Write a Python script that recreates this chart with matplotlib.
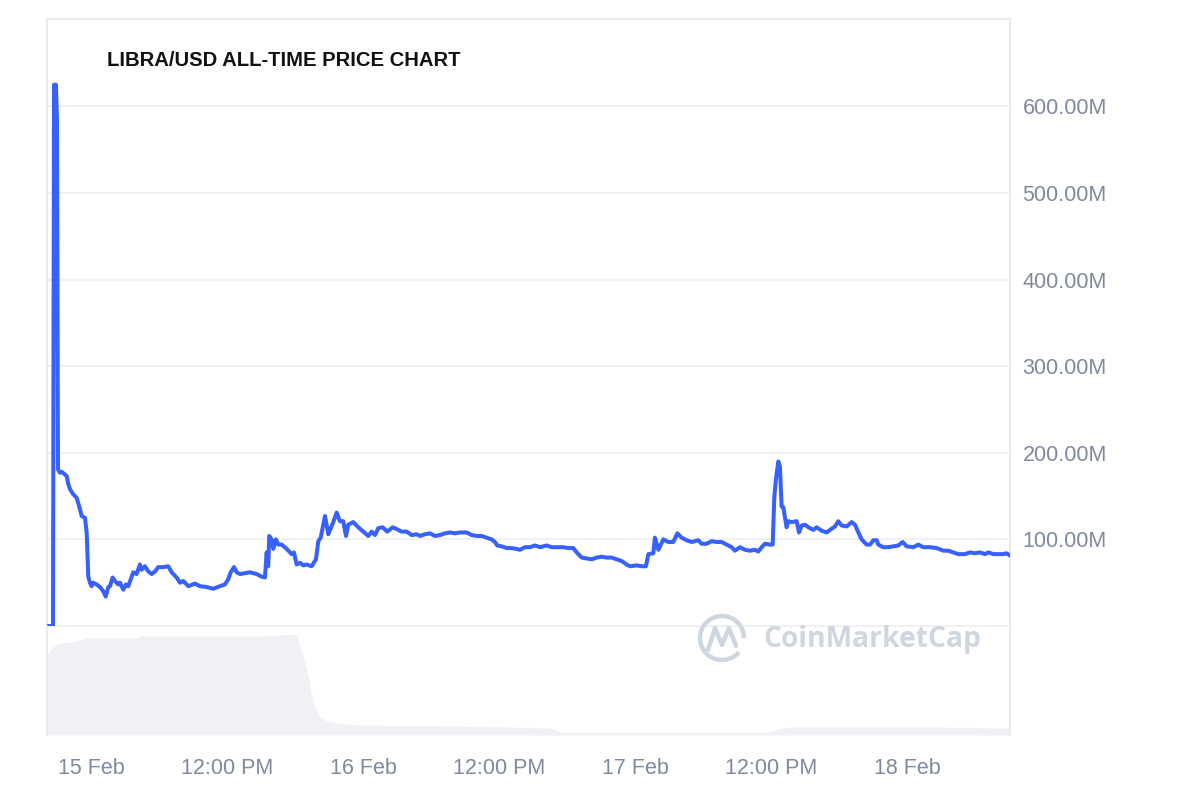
import matplotlib
matplotlib.use("Agg")
import matplotlib.pyplot as plt
from matplotlib.patches import Arc
import numpy as np

plt.rcParams['font.family'] = ['Liberation Sans', 'DejaVu Sans']

# hours since 15 Feb 00:00
price_hours = [-3.79, -3.35, -3.26, -3.09, -3.0, -2.91, -2.74, -2.59, -2.29, -2.14, -2.0, -1.85, -1.56,
               -1.26, -0.97, -0.82, -0.53, -0.38, -0.24, -0.09, 0.06, 0.2, 0.5, 0.79, 1.09, 1.3, 1.53,
               1.68, 1.91, 2.12, 2.41, 2.56, 2.85, 3.09, 3.29, 3.59, 3.73, 4.03, 4.32, 4.47, 4.76, 5.06,
               5.36, 5.65, 5.94, 6.38, 6.82, 7.12, 7.56, 7.85, 8.14, 8.59, 9.18, 9.62, 10.21, 10.79,
               11.38, 11.82, 12.11, 12.33, 12.62, 12.86, 13.15, 13.59, 14.03, 14.62, 15.06, 15.35, 15.5,
               15.64, 15.73, 15.94, 16.09, 16.32, 16.53, 16.83, 17.27, 17.71, 17.91, 18.15, 18.44, 18.73,
               19.03, 19.47, 19.85, 20.06, 20.27, 20.65, 20.94, 21.38, 21.68, 21.97, 22.26, 22.5, 22.7,
               23.14, 23.59, 24.03, 24.47, 24.77, 25.06, 25.35, 25.74, 26.14, 26.62, 26.97, 27.41, 27.86,
               28.3, 28.74, 29.03, 29.47, 29.91, 30.35, 30.79, 31.24, 31.68, 32.12, 32.56, 33.15, 33.6,
               34.04, 34.47, 34.92, 35.36, 35.65, 35.85, 36.24, 36.68, 37.12, 37.56, 37.85, 38.29, 38.74,
               39.18, 39.62, 40.21, 40.65, 41.09, 41.67, 42.12, 42.56, 42.86, 43.3, 43.74, 44.18, 44.62,
               45.06, 45.5, 45.94, 46.39, 46.83, 47.27, 47.56, 48.15, 48.59, 48.97, 49.18, 49.62, 49.76,
               50.06, 50.5, 50.94, 51.38, 51.74, 52.12, 52.56, 53.0, 53.59, 53.88, 54.32, 54.77, 55.21,
               55.65, 56.09, 56.53, 56.82, 57.26, 57.71, 58.15, 58.59, 58.88, 59.18, 59.47, 59.91, 60.15,
               60.29, 60.44, 60.65, 60.79, 60.94, 61.09, 61.38, 61.53, 61.82, 62.27, 62.47, 62.71, 63.0,
               63.3, 63.74, 64.03, 64.47, 64.92, 65.21, 65.65, 65.94, 66.24, 66.68, 67.12, 67.41, 67.71,
               68.0, 68.44, 68.74, 69.03, 69.33, 69.47, 69.91, 70.35, 70.79, 71.24, 71.62, 71.97, 72.56,
               73.0, 73.44, 74.03, 74.62, 75.2, 75.65, 76.09, 76.53, 77.12, 77.56, 78.0, 78.44, 78.88,
               79.18, 79.62, 80.06, 80.5, 80.74, 81.03]
# price in millions USD
price_musd = [0, 0, 625, 625, 585, 181, 177, 178, 175, 173, 164, 158, 152,
              148, 135, 127, 125, 108, 57, 50, 46, 50, 48, 45, 40, 34, 45,
              46, 56, 52, 48, 50, 42, 48, 46, 57, 62, 60, 71, 65, 69, 63,
              60, 63, 68, 68, 69, 62, 56, 50, 52, 46, 49, 46, 45, 43,
              46, 48, 54, 62, 68, 62, 60, 61, 62, 60, 57, 56, 85,
              69, 104, 100, 89, 100, 94, 94, 89, 83, 85, 71, 73, 70,
              71, 69, 77, 98, 102, 127, 106, 120, 131, 121, 121, 104, 117,
              120, 114, 109, 104, 109, 105, 113, 114, 109, 114, 112, 109, 109,
              105, 106, 104, 106, 107, 104, 105, 107, 108, 107, 108, 108, 105,
              104, 104, 102, 100, 97, 93, 92, 90, 90, 89, 88, 91, 91,
              93, 91, 93, 91, 91, 91, 90, 90, 85, 79, 78, 77, 79,
              80, 79, 79, 77, 75, 71, 69, 70, 69, 69, 83, 84, 102,
              88, 100, 97, 97, 107, 102, 99, 97, 99, 95, 95, 98, 97,
              97, 94, 91, 87, 91, 88, 87, 88, 86, 91, 95, 94, 94,
              148, 170, 190, 184, 138, 137, 114, 121, 120, 121, 108, 116, 117,
              114, 111, 114, 110, 108, 111, 115, 121, 116, 115, 120, 117, 108,
              100, 94, 94, 99, 99, 94, 91, 91, 92, 93, 97, 92, 91,
              94, 91, 91, 90, 87, 87, 85, 83, 83, 85, 84, 85, 83,
              85, 83, 83, 83, 84, 82]

volume_hours = [-3.91, -3.35, -2.74, -1.85, -0.35, 4.06, 4.32, 15.53, 17.82, 18.18, 18.44, 19.06, 19.59,
                20.21, 21.09, 23.47, 31.7, 36.8, 40.5, 41.4, 59.9, 60.8, 61.9, 74.3, 81.1]
volume_musd = [800, 880, 920, 930, 970, 970, 990, 990, 1010, 1000, 880, 650, 320,
               170, 130, 100, 90, 80, 70, 30, 30, 70, 80, 80, 70]

tick_hours = [0, 12, 24, 36, 48, 60, 72]
tick_labels = ['15 Feb', '12:00 PM', '16 Feb', '12:00 PM', '17 Feb', '12:00 PM', '18 Feb']
ytick_vals = [100, 200, 300, 400, 500, 600]
ytick_labels = ['100.00M', '200.00M', '300.00M', '400.00M', '500.00M', '600.00M']

title = 'LIBRA/USD ALL-TIME PRICE CHART'

LINE = '#3861fb'
GRID = '#eceef1'
FRAME = '#e8e8e8'
TXT = '#808a9d'
VOL = '#eff1f4'
WM = '#cfd6e0'

fig = plt.figure(figsize=(12, 8), dpi=100)
xmin, xmax = -3.88, 81.09

ax = fig.add_axes([47/1200, 1-626/800, 963/1200, 607/800])
axv = fig.add_axes([47/1200, 1-735/800, 963/1200, 109/800])

# volume
axv.fill_between(volume_hours, volume_musd, 0, color=VOL, lw=0)
axv.set_xlim(xmin, xmax)
axv.set_ylim(0, 1090)
axv.set_yticks([])
axv.set_xticks(tick_hours)
axv.set_xticklabels(tick_labels, fontsize=15.5, color=TXT)
axv.tick_params(axis='x', length=0, pad=16.5)
for s in ['top', 'bottom']:
    axv.spines[s].set_visible(False)
for s in ['left', 'right']:
    axv.spines[s].set_color(FRAME)
    axv.spines[s].set_linewidth(1.2)
axv.patch.set_alpha(0)

# price
ax.set_xlim(xmin, xmax)
ax.set_ylim(0, 701)
for v in ytick_vals:
    ax.axhline(v, color=GRID, lw=1.1, zorder=1)
ax.plot(price_hours, price_musd, color=LINE, lw=2.9, solid_joinstyle='round', zorder=3)
ax.set_xticks([])
ax.yaxis.tick_right()
ax.set_yticks(ytick_vals)
ax.set_yticklabels(ytick_labels, fontsize=15.5, color=TXT)
ax.tick_params(axis='y', length=0, pad=9)
for s in ['top', 'left', 'right']:
    ax.spines[s].set_color(FRAME)
    ax.spines[s].set_linewidth(1.2)
ax.spines['bottom'].set_color(GRID)
ax.spines['bottom'].set_linewidth(1.1)

fig.text(107/1200, 1-60/800, title, fontsize=14.6, fontweight='bold', color='#111111',
         ha='left', va='center')

# watermark
wax = fig.add_axes([0, 0, 1, 1])
wax.set_xlim(0, 1200)
wax.set_ylim(800, 0)
wax.axis('off')
wax.add_patch(Arc((722, 638), 44, 44, angle=0, theta1=40, theta2=360, color=WM, lw=3.2))
wax.plot([708, 715, 722, 729, 736], [650, 628, 645, 628, 646], color=WM, lw=3.2,
         solid_joinstyle='round', solid_capstyle='round')
wax.text(763, 640, 'CoinMarketCap', fontsize=20.3, fontweight='bold', color=WM,
         family=['Open Sans', 'DejaVu Sans'], ha='left', va='center')

fig.savefig('out.png', dpi=100, facecolor='white')
